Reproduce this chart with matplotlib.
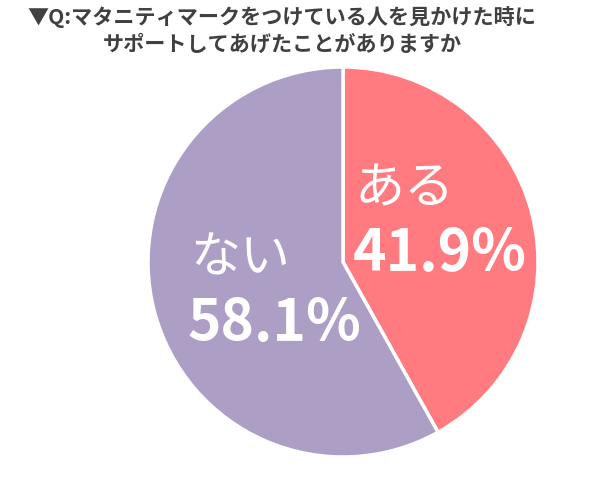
import matplotlib
matplotlib.use("Agg")
import matplotlib.pyplot as plt

plt.rcParams['font.family'] = ['Noto Sans CJK JP', 'DejaVu Sans']

labels = ["ある", "ない"]
values = [41.9, 58.1]
colors = ["#FF7B7F", "#AD9EC6"]
title_lines = ["▼Q:マタニティマークをつけている人を見かけた時に",
               "サポートしてあげたことがありますか"]

fig = plt.figure(figsize=(6, 4.94), dpi=100)
fig.patch.set_facecolor("white")

# pie centre ~ (343, 262) px, radius ~195 px
ax = fig.add_axes([0.2467, 0.0749, 0.65, 0.7895])
ax.pie(values, colors=colors, startangle=90, counterclock=False, radius=1.0,
       wedgeprops=dict(edgecolor="white", linewidth=2.5))
ax.set_xlim(-1, 1)
ax.set_ylim(-1, 1)
ax.set_aspect("equal")
ax.axis("off")

def px(x, y):
    return (x - 343) / 195.0, (262 - y) / 195.0

# labels
x, y = px(355, 190)
ax.text(x, y, labels[0], color="white", fontsize=36, ha="left", va="center")
x, y = px(353, 254)
ax.text(x, y, "%.1f%%" % values[0], color="white", fontsize=41, fontweight="bold",
        ha="left", va="center")
x, y = px(190, 258)
ax.text(x, y, labels[1], color="white", fontsize=36, ha="left", va="center")
x, y = px(188, 324)
ax.text(x, y, "%.1f%%" % values[1], color="white", fontsize=41, fontweight="bold",
        ha="left", va="center")

fig.text(282 / 600, 1 - 17 / 494, title_lines[0], ha="center", va="center",
         fontsize=15.2, fontweight="bold", color="#404040")
fig.text(282 / 600, 1 - 44 / 494, title_lines[1], ha="center", va="center",
         fontsize=15.2, fontweight="bold", color="#404040")

fig.savefig("out.png", dpi=100, facecolor="white")
